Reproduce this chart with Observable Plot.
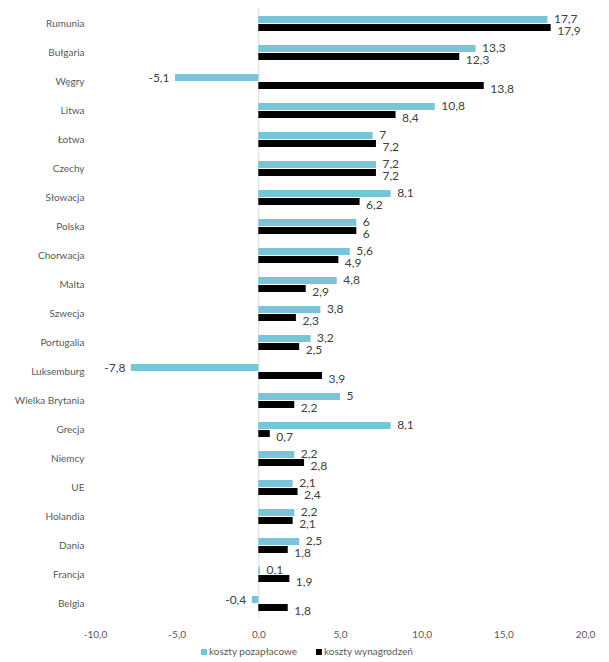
<!DOCTYPE html>
<html><head><meta charset="utf-8">
<script src="https://cdn.jsdelivr.net/npm/d3@7"></script>
<script src="https://cdn.jsdelivr.net/npm/@observablehq/plot@0.6"></script>
<style>
body{margin:0;background:#fff;font-family:Lato,"Liberation Sans",sans-serif;}
#chart svg{display:block;}
.legend{position:relative;height:17px;font-size:10px;color:#595959;}
.legend span{position:absolute;top:0;white-space:nowrap;}
.legend i{display:inline-block;width:6px;height:6px;margin-right:2px;vertical-align:0px;}
</style></head>
<body>
<div id="chart"></div>
<div class="legend">
  <span style="left:201px"><i style="background:#78C4D8"></i>koszty pozapłacowe</span>
  <span style="left:316px"><i style="background:#000"></i>koszty wynagrodzeń</span>
</div>
<script>
const categories = ["Rumunia","Bułgaria","Węgry","Litwa","Łotwa","Czechy","Słowacja","Polska","Chorwacja","Malta","Szwecja","Portugalia","Luksemburg","Wielka Brytania","Grecja","Niemcy","UE","Holandia","Dania","Francja","Belgia"];
const pozaplacowe = [17.7,13.3,-5.1,10.8,7,7.2,8.1,6,5.6,4.8,3.8,3.2,-7.8,5,8.1,2.2,2.1,2.2,2.5,0.1,-0.4];
const wynagrodzen = [17.9,12.3,13.8,8.4,7.2,7.2,6.2,6,4.9,2.9,2.3,2.5,3.9,2.2,0.7,2.8,2.4,2.1,1.8,1.9,1.8];
const xTicks = [-10,-5,0,5,10,15,20];

const blue = categories.map((c,i)=>({c, v: pozaplacowe[i]}));
const black = categories.map((c,i)=>({c, v: wynagrodzen[i]}));
const fmt = v => String(v).replace(".", ",");
const tfmt = v => v.toFixed(1).replace(".", ",");

const chart = Plot.plot({
  width: 609, height: 645,
  marginTop: 8, marginBottom: 27, marginLeft: 95, marginRight: 24,
  style: {fontFamily: "Lato, 'Liberation Sans', sans-serif", fontSize: "10px", color: "#595959", background: "#fff"},
  x: {domain: [-10, 20], ticks: xTicks, tickFormat: tfmt, tickSize: 0, tickPadding: 12, label: null},
  y: {domain: categories, padding: 0, tickSize: 0, tickPadding: 11, label: null},
  marks: [
    Plot.ruleX([0], {stroke: "#d9d9d9", strokeWidth: 1}),
    Plot.barX(blue, {x: "v", y: "c", fill: "#78C4D8", insetTop: 7, insetBottom: 15}),
    Plot.barX(black, {x: "v", y: "c", fill: "#000", insetTop: 15, insetBottom: 7}),
    Plot.text(blue.filter(d=>d.v>=0), {x: "v", y: "c", text: d=>fmt(d.v), textAnchor: "start", dx: 6, dy: -5, fontSize: 12, fill: "#404040"}),
    Plot.text(blue.filter(d=>d.v<0), {x: "v", y: "c", text: d=>fmt(d.v), textAnchor: "end", dx: -6, dy: -4, fontSize: 12, fill: "#404040"}),
    Plot.text(black, {x: "v", y: "c", text: d=>fmt(d.v), textAnchor: "start", dx: 6, dy: 7, fontSize: 12, fill: "#404040"})
  ]
});
document.getElementById("chart").appendChild(chart);
</script>
</body></html>
